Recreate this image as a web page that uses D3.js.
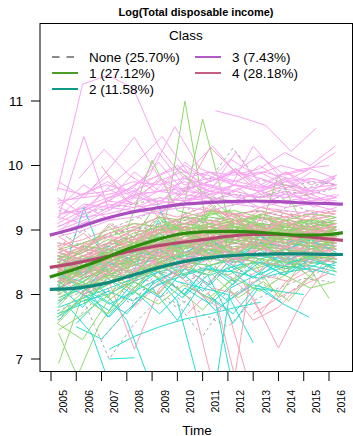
<!DOCTYPE html>
<html>
<head>
<meta charset="utf-8">
<script src="https://cdn.jsdelivr.net/npm/d3@7"></script>
<style>
body { margin: 0; background: #fff; }
text { font-family: "Liberation Sans", Arial, sans-serif; fill: #000; }
</style>
</head>
<body>
<div class="container"></div>
<script>
// axis ticks
var tickYears = [2005, 2006, 2007, 2008, 2009, 2010, 2011, 2012, 2013, 2014, 2015, 2016];
var yTicks = [7, 8, 9, 10, 11];
var legendLabels = ["None (25.70%)", "1 (27.12%)", "2 (11.58%)", "3 (7.43%)", "4 (28.18%)"];

// class mean curves
var meanTimes = [2004.95, 2006, 2007, 2008, 2009, 2010, 2011, 2012, 2013, 2014, 2015, 2016, 2016.55];
var mean1 = [8.27, 8.40, 8.54, 8.70, 8.83, 8.93, 8.97, 8.98, 8.97, 8.94, 8.92, 8.93, 8.96];
var mean2 = [8.08, 8.10, 8.16, 8.27, 8.39, 8.49, 8.56, 8.60, 8.62, 8.63, 8.63, 8.62, 8.62];
var mean3 = [8.92, 9.03, 9.16, 9.26, 9.33, 9.39, 9.42, 9.44, 9.45, 9.44, 9.42, 9.41, 9.40];
var mean4 = [8.42, 8.49, 8.57, 8.66, 8.74, 8.80, 8.85, 8.90, 8.93, 8.93, 8.90, 8.86, 8.84];

// individual trajectories: first observation time, then yearly values
var noneStart = [2005.25, 2005.3, 2005.25, 2006.3, 2009.0, 2010.2, 2005.3, 2005.25, 2005.3, 2005.25, 2007.5, 2005.3, 2005.25,
  2010.0, 2005.3, 2006.3, 2005.25, 2005.3, 2011.3, 2005.25, 2008.0, 2005.3, 2005.25, 2014.0, 2005.3,
  2005.3, 2005.25, 2005.4, 2006.2, 2005.3, 2008.5, 2005.25, 2005.3, 2010.6, 2005.25, 2007.0];
var noneValues = [
  [8.45, 8.50, 8.65, 8.60, 8.75, 8.85, 8.80, 8.90, 8.85, 8.80, 8.90, 8.85],
  [9.30, 9.25, 9.35, 9.40, 9.50, 9.45, 9.60, 9.55, 9.50, 9.60, 9.55, 9.65],
  [8.20, 8.35, 8.30, 8.50, 8.60, 8.55, 8.70, 8.75, 8.65, 8.70, 8.60, 8.65],
  [7.90, 7.00, 7.55, 7.95, 8.20, 8.35],
  [8.10, 7.85, 7.35, 7.95, 8.20, 8.30, 8.40, 8.35],
  [9.60, 9.75, 10.27, 9.78, 9.70, 9.65, 9.80],
  [8.65, 8.80, 8.95, 9.00, 9.10, 9.20, 9.15, 9.25, 9.30, 9.20, 9.25, 9.30],
  [7.75, 7.90, 8.05, 8.20, 8.35, 8.30, 8.45, 8.55, 8.50, 8.40, 8.50, 8.45],
  [8.55, 8.45, 8.70, 8.85, 8.80, 9.00, 9.05, 8.95, 9.10, 9.05, 9.00, 9.10],
  [8.30, 8.50, 8.45, 8.60, 8.55, 8.70, 8.85, 8.80, 8.70, 8.75, 8.80, 8.70],
  [9.05, 9.20, 9.35, 9.70, 9.50, 9.40, 9.55, 9.45, 9.60],
  [8.00, 8.15, 8.35, 8.25, 8.45, 8.60, 8.55, 8.65, 8.60, 8.55, 8.65, 8.60],
  [8.80, 8.75, 8.90, 9.05, 9.00, 9.15, 9.10, 9.00, 9.15, 9.05, 9.10, 9.15],
  [7.95, 7.70, 7.50, 7.90, 8.10, 8.25, 8.20],
  [8.40, 8.35, 8.55, 8.70, 8.65, 8.80, 8.75, 8.90, 8.95, 8.85, 8.80, 8.90],
  [8.60, 8.75, 8.70, 8.90, 9.05, 9.00, 8.95, 9.10, 9.05, 9.00],
  [8.10, 8.25, 8.40, 8.35, 8.50, 8.65, 8.75, 8.70, 8.60, 8.65, 8.75, 8.70],
  [8.70, 8.60, 8.80, 8.75, 8.95, 9.05, 9.20, 9.10, 9.00, 9.15, 9.10, 9.05],
  [9.45, 9.60, 9.50, 9.65, 9.75, 9.70],
  [8.35, 8.45, 8.60, 8.55, 8.70, 8.80, 8.75, 8.85, 8.90, 8.80, 8.85, 8.80],
  [8.50, 8.40, 8.65, 8.80, 8.75, 8.90, 8.85, 8.95, 9.00],
  [7.90, 8.05, 8.20, 8.40, 8.35, 8.50, 8.60, 8.55, 8.65, 8.60, 8.50, 8.55],
  [8.50, 8.65, 8.80, 8.90, 8.85, 8.95, 9.00, 9.05, 8.95, 9.00, 9.05, 8.95],
  [7.90, 8.20, 8.45],
  [8.25, 8.40, 8.55, 8.50, 8.65, 8.75, 8.70, 8.85, 8.80, 8.75, 8.85, 8.90],
  [8.60, 8.25, 8.70, 8.40, 8.90, 8.55, 8.80, 9.05, 8.70, 8.95, 8.60, 8.85],
  [8.05, 8.40, 7.95, 8.30, 8.15, 8.55, 8.35, 8.70, 8.45, 8.65, 8.50, 8.75],
  [8.95, 8.70, 9.10, 8.85, 9.25, 8.95, 9.40, 9.05, 9.20, 8.95, 9.15, 9.00],
  [7.70, 8.10, 7.85, 8.35, 8.05, 8.50, 8.25, 8.60, 8.35, 8.55],
  [8.40, 8.75, 8.35, 8.60, 8.95, 8.65, 8.85, 8.60, 9.00, 8.70, 8.90, 8.75],
  [9.20, 8.85, 9.35, 9.00, 9.55, 9.15, 9.40, 9.25],
  [7.60, 7.95, 8.25, 7.90, 8.30, 8.55, 8.20, 8.45, 8.70, 8.40, 8.60, 8.50],
  [8.75, 9.00, 8.65, 8.95, 8.80, 9.20, 8.90, 9.15, 8.95, 9.30, 9.05, 9.20],
  [8.30, 7.85, 8.40, 8.10, 8.55, 8.35],
  [8.30, 8.05, 8.45, 8.20, 8.60, 8.40, 8.80, 8.50, 8.75, 8.55, 8.70, 8.60],
  [7.30, 7.75, 8.05, 7.80, 8.10]
];

var c1Start = [2005.25, 2005.3, 2005.25, 2005.3, 2009.3, 2008.0, 2005.25, 2005.3, 2005.9, 2005.25, 2008.0, 2005.3,
  2005.25, 2009.9, 2005.3, 2013.0, 2005.25, 2009.0, 2011.0, 2005.3, 2005.25, 2005.3, 2005.25, 2006.3, 2005.3,
  2005.25, 2005.3, 2005.25, 2005.3, 2008.3, 2005.25, 2005.3, 2005.25, 2012.3, 2005.3,
  2005.25, 2005.3, 2005.25, 2005.4, 2006.3, 2005.3, 2005.25, 2007.4, 2005.3, 2005.25, 2009.5, 2005.3, 2005.25,
  2005.3, 2006.0, 2005.25, 2005.3, 2011.4];
var c1Values = [
  [8.30, 8.45, 8.60, 8.80, 8.85, 8.95, 9.00, 8.95, 9.05, 8.90, 8.95, 9.00],
  [8.10, 8.30, 8.50, 8.65, 8.80, 8.90, 8.85, 9.00, 8.95, 8.85, 8.90, 8.95],
  [8.45, 8.60, 8.75, 8.95, 9.05, 9.10, 9.20, 9.15, 9.10, 9.05, 9.15, 9.10],
  [6.93, 8.05, 8.30, 8.55, 8.70, 8.80, 8.75, 8.90, 8.85, 8.80, 8.75, 8.85],
  [8.60, 11.00, 8.75, 8.90, 8.85, 9.00, 8.95],
  [8.70, 9.30, 8.90, 10.72, 9.20, 9.00, 8.95, 8.85, 8.90],
  [8.20, 8.40, 8.35, 8.60, 8.75, 8.70, 8.90, 8.85, 8.80, 8.75, 8.85, 8.80],
  [8.00, 8.25, 8.45, 8.50, 8.65, 8.80, 8.90, 8.80, 8.70, 8.80, 8.75, 8.70],
  [6.60, 7.52, 8.10, 8.40, 8.60, 8.70, 8.65, 8.80, 8.75, 8.70],
  [8.55, 8.70, 8.90, 9.00, 9.20, 9.15, 9.25, 9.30, 9.20, 9.15, 9.25, 9.20],
  [9.00, 10.08, 9.30, 9.20, 9.30, 9.10, 9.00, 9.15, 9.05],
  [8.35, 8.50, 8.70, 8.65, 8.85, 9.00, 9.10, 9.05, 8.95, 9.00, 9.05, 8.90],
  [7.90, 8.10, 8.30, 8.45, 8.60, 8.55, 8.70, 8.65, 8.75, 8.70, 8.60, 8.65],
  [9.98, 9.62, 9.30, 9.10, 9.00, 9.15],
  [8.25, 8.40, 8.55, 8.75, 8.90, 8.85, 9.00, 9.10, 9.05, 9.00, 8.90, 9.00],
  [8.70, 9.85, 9.05, 8.95],
  [8.60, 8.55, 8.70, 8.85, 9.00, 9.05, 9.00, 8.95, 9.10, 9.05, 9.00, 9.10],
  [8.30, 8.10, 7.76, 8.20, 8.40, 8.50, 8.45, 8.55],
  [8.40, 8.30, 8.50, 7.96, 8.55, 7.94],
  [8.15, 8.35, 8.40, 8.55, 8.70, 8.65, 8.80, 8.95, 8.90, 8.85, 8.95, 8.90],
  [8.40, 8.50, 8.65, 8.80, 8.75, 8.95, 9.05, 9.00, 8.90, 8.95, 8.85, 8.95],
  [7.95, 8.15, 8.20, 8.35, 8.50, 8.65, 8.60, 8.75, 8.70, 8.65, 8.70, 8.60],
  [8.50, 8.65, 8.85, 8.80, 9.00, 9.10, 9.05, 9.15, 9.20, 9.10, 9.05, 9.15],
  [8.20, 8.50, 8.70, 8.95, 9.10, 9.00, 9.10, 8.95, 9.05, 9.00],
  [8.05, 8.20, 8.40, 8.60, 8.55, 8.75, 8.80, 8.70, 8.85, 8.80, 8.75, 8.80],
  [8.35, 8.30, 8.55, 8.70, 8.85, 8.80, 8.95, 8.90, 8.85, 8.90, 9.00, 8.95],
  [8.70, 8.80, 8.95, 9.10, 9.05, 9.20, 9.15, 9.10, 9.25, 9.15, 9.10, 9.20],
  [7.65, 7.95, 8.15, 8.35, 8.45, 8.60, 8.70, 8.65, 8.60, 8.70, 8.65, 8.75],
  [8.45, 8.40, 8.60, 8.75, 8.70, 8.85, 8.95, 9.05, 9.00, 8.90, 9.00, 9.05],
  [8.80, 8.95, 9.05, 9.00, 9.10, 9.20, 9.05, 9.15, 9.10],
  [8.20, 8.45, 8.50, 8.65, 8.80, 8.95, 8.85, 8.80, 8.95, 9.00, 8.90, 8.85],
  [7.45, 7.70, 8.00, 8.25, 8.40, 8.50, 8.45, 8.60, 8.55, 8.50, 8.60, 8.55],
  [8.55, 8.75, 8.70, 8.90, 9.05, 9.00, 9.10, 9.05, 9.00, 8.95, 9.05, 9.10],
  [8.40, 8.55, 8.35, 8.65],
  [8.30, 8.55, 8.65, 8.80, 8.75, 8.90, 9.00, 9.05, 8.95, 9.00, 8.90, 8.95],
  [8.00, 8.45, 8.15, 8.60, 8.35, 8.85, 8.55, 9.00, 8.70, 8.95, 8.65, 8.90],
  [8.35, 8.10, 8.55, 8.80, 8.50, 9.05, 8.75, 9.20, 8.90, 9.10, 8.80, 9.05],
  [7.80, 8.20, 7.95, 8.50, 8.25, 8.70, 8.95, 8.60, 8.85, 8.55, 8.80, 8.50],
  [8.65, 8.40, 8.85, 8.60, 9.15, 8.90, 9.30, 9.00, 9.25, 8.95, 9.20, 8.90],
  [7.85, 8.30, 8.05, 8.55, 8.85, 8.50, 8.95, 8.70, 9.00, 8.75],
  [8.10, 8.40, 8.65, 8.30, 8.75, 8.95, 8.60, 8.85, 9.05, 8.75, 8.95, 8.70],
  [8.50, 8.25, 8.70, 8.45, 8.95, 8.70, 9.10, 8.85, 8.70, 9.05, 8.80, 9.00],
  [8.20, 8.60, 9.00, 8.70, 9.35, 9.00, 8.80, 9.10, 8.85],
  [7.70, 8.05, 8.35, 8.10, 8.50, 8.30, 8.75, 8.50, 8.65, 8.40, 8.60, 8.35],
  [8.25, 8.60, 8.35, 8.80, 8.55, 9.00, 8.80, 8.65, 9.05, 8.80, 9.10, 8.85],
  [8.40, 8.90, 8.55, 9.10, 8.75, 8.50, 8.20],
  [8.45, 8.70, 9.05, 8.75, 9.20, 8.95, 9.30, 9.05, 8.90, 9.15, 8.85, 9.05],
  [7.55, 7.30, 7.90, 8.20, 8.00, 8.45, 8.30, 8.65, 8.45, 8.70, 8.55, 8.60],
  [8.15, 8.50, 8.25, 8.65, 8.90, 8.60, 8.80, 9.00, 8.75, 8.90, 8.70, 8.85],
  [8.30, 8.65, 8.40, 8.90, 8.65, 9.05, 8.85, 9.15, 8.90, 9.05, 8.80],
  [7.55, 7.95, 7.70, 8.05, 7.85, 8.15, 7.95, 8.25, 8.05, 8.30, 8.10, 8.20],
  [7.40, 6.50],
  [8.30, 7.95, 8.20, 7.90, 8.35]
];

var c2Start = [2005.25, 2005.3, 2005.25, 2006.0, 2007.3, 2007.3, 2007.0, 2008.0, 2011.1, 2009.0, 2005.25, 2005.3,
  2005.25, 2005.3, 2005.3, 2005.25, 2009.2, 2010.5, 2012.0, 2005.3,
  2005.3, 2005.25, 2006.0, 2005.3, 2008.2, 2005.25, 2011.2, 2005.3,
  2009.0, 2006.3, 2010.2, 2005.6, 2010.5];
var c2Values = [
  [8.05, 8.15, 8.30, 8.45, 8.55, 8.60, 8.70, 8.65, 8.60, 8.70, 8.65, 8.60],
  [7.80, 7.95, 8.10, 8.25, 8.40, 8.50, 8.45, 8.55, 8.60, 8.50, 8.55, 8.50],
  [8.30, 8.20, 8.45, 8.60, 8.70, 8.75, 8.65, 8.80, 8.75, 8.70, 8.80, 8.75],
  [7.50, 7.31, 7.75, 8.10, 8.30, 8.40, 8.35, 8.50, 8.45, 8.40],
  [7.15, 7.35, 7.50, 7.62, 7.70, 7.80, 7.88],
  [7.00, 7.02],
  [8.10, 7.60, 6.55],
  [8.20, 8.35, 7.90, 6.40],
  [5.50, 8.10, 8.30, 8.45, 8.40, 8.55],
  [8.40, 8.20, 8.10, 8.00, 7.25],
  [7.65, 7.90, 8.00, 8.20, 8.35, 8.45, 8.55, 8.50, 8.60, 8.55, 8.50, 8.45],
  [8.45, 8.55, 8.60, 8.75, 8.90, 8.85, 8.80, 8.95, 8.90, 8.85, 8.80, 8.90],
  [8.20, 8.00, 8.15, 8.35, 9.15, 8.50, 8.60, 8.70, 8.55, 8.65, 8.60, 8.55],
  [7.95, 8.10, 7.85, 8.05, 8.25, 8.40, 8.30, 8.45, 8.50, 8.40, 8.45, 8.35],
  [8.10, 9.35, 8.30, 8.25, 8.50, 8.60, 8.55, 8.65, 8.60, 8.70, 8.65],
  [7.70, 7.85, 8.05, 7.90, 8.15, 8.30, 8.40, 8.35, 8.25, 8.35, 8.40, 8.30],
  [9.40, 8.60, 8.70, 8.55, 8.80, 8.75, 8.90],
  [8.20, 7.75, 8.05, 8.30, 8.50, 8.60],
  [8.40, 8.10, 8.05, 8.00],
  [8.55, 8.40, 8.50, 8.65, 8.60, 8.80, 8.75, 8.90, 8.85, 8.80, 8.90, 8.85],
  [7.60, 8.00, 7.75, 8.20, 7.95, 8.40, 8.15, 8.55, 8.30, 8.60, 8.35, 8.50],
  [8.15, 7.80, 8.25, 8.00, 8.45, 8.25, 8.65, 8.40, 8.70, 8.45, 8.60, 8.40],
  [7.55, 7.95, 7.70, 8.15, 8.40, 8.05, 8.50, 8.25, 8.60, 8.35],
  [8.35, 8.05, 8.50, 8.30, 8.70, 8.45, 8.85, 8.55, 8.80, 8.50, 8.75, 8.55],
  [7.80, 8.25, 7.95, 8.45, 8.15, 8.55, 8.30, 8.65],
  [7.85, 8.20, 7.65, 8.10, 8.35, 8.00, 8.45, 8.20, 8.50, 8.30, 8.55, 8.40],
  [8.00, 7.70, 8.15, 7.85, 7.65],
  [8.60, 8.30, 8.75, 8.50, 8.95, 8.65, 8.85, 8.60, 8.90, 8.70, 8.85, 8.65],
  [8.10, 7.60, 8.20, 7.90, 8.15, 8.05],
  [8.00, 7.65, 8.05, 7.70, 8.10, 7.85, 8.20],
  [7.95, 8.30, 7.55, 8.10, 7.85],
  [7.85, 7.40, 6.30],
  [8.10, 7.90, 6.00]
];

var c3Start = [2005.25, 2005.3, 2005.3, 2005.25, 2005.4, 2005.9, 2011.5, 2005.25, 2005.25, 2005.3, 2005.3,
  2005.25, 2006.2, 2005.25, 2005.3, 2005.25, 2005.3, 2007.0, 2005.3, 2010.3, 2005.25, 2005.3,
  2005.3, 2005.25, 2005.4, 2006.1, 2005.3, 2008.3];
var c3Values = [
  [9.60, 11.26, 11.40, 11.20, 10.30, 9.80, 9.70],
  [9.75, 9.50, 9.95, 10.44, 9.80, 9.60, 9.55, 9.70, 9.60, 9.75, 9.80, 9.70],
  [9.20, 10.45, 9.30, 9.55, 9.60, 9.65, 9.50, 9.45, 9.60, 9.50, 9.55, 9.40],
  [9.40, 9.55, 9.75, 9.50, 10.20, 9.70, 9.80, 9.75, 9.90, 9.70, 9.60, 9.80],
  [9.25, 9.35, 9.70, 10.05, 10.45, 9.90, 10.30, 9.85, 9.90, 9.80, 9.75],
  [9.30, 9.45, 9.60, 9.85, 10.60, 9.95, 9.80, 9.70, 9.65, 9.60],
  [10.85, 10.75, 10.62, 10.22, 10.58],
  [9.10, 9.30, 9.45, 9.40, 9.60, 9.55, 9.50, 9.70, 9.60, 9.50, 9.65, 9.70],
  [9.05, 9.20, 9.25, 9.35, 9.40, 9.50, 9.45, 9.55, 9.50, 9.60, 9.45, 9.55],
  [9.00, 9.15, 9.35, 9.30, 9.45, 9.65, 9.70, 9.50, 9.55, 9.40, 9.50, 9.45],
  [9.35, 9.20, 9.50, 9.60, 9.40, 9.80, 9.60, 10.20, 9.70, 9.55, 9.60, 9.50],
  [8.95, 9.10, 9.20, 9.30, 9.25, 9.45, 9.50, 9.40, 9.45, 9.35, 9.40, 9.30],
  [9.55, 9.70, 9.60, 9.75, 9.90, 9.85, 9.70, 9.60, 9.80, 9.55],
  [9.45, 9.50, 9.55, 9.65, 10.05, 9.60, 9.75, 9.90, 10.15, 9.85, 9.95, 10.20],
  [9.15, 9.40, 9.35, 9.55, 9.60, 9.75, 9.60, 9.70, 9.65, 9.75, 9.60, 9.65],
  [9.20, 9.10, 9.30, 9.50, 9.45, 9.40, 9.60, 9.55, 9.35, 9.45, 9.50, 9.40],
  [9.25, 9.30, 9.45, 9.70, 9.85, 10.00, 9.75, 9.90, 9.80, 9.65, 9.80, 9.70],
  [9.30, 9.50, 9.80, 10.00, 9.70, 9.60, 10.30, 9.85, 9.95, 10.00],
  [8.90, 9.00, 9.15, 9.20, 9.30, 9.35, 9.30, 9.40, 9.35, 9.30, 9.25, 9.35],
  [9.50, 9.70, 9.60, 9.80, 9.65, 9.90],
  [9.65, 9.55, 9.60, 9.75, 9.70, 9.80, 9.90, 9.85, 9.95, 10.20, 10.00, 10.30],
  [9.05, 9.25, 9.40, 9.35, 9.50, 9.45, 9.55, 9.60, 9.50, 9.55, 9.45, 9.50],
  [9.35, 9.70, 9.45, 9.90, 9.60, 10.05, 9.75, 9.95, 9.65, 9.90, 9.70, 9.85],
  [9.50, 9.25, 9.65, 9.40, 9.80, 9.55, 9.90, 9.70, 10.00, 9.75, 9.95, 9.80],
  [9.00, 9.35, 9.15, 9.55, 9.30, 9.70, 9.45, 9.65, 9.40, 9.60, 9.35, 9.55],
  [9.80, 10.25, 9.85, 9.60, 9.95, 9.70, 10.10, 9.85, 10.00, 9.90],
  [9.20, 9.55, 9.85, 9.50, 9.75, 9.45, 9.65, 9.95, 9.60, 9.80, 9.55, 9.70],
  [9.65, 9.40, 9.85, 9.55, 9.95, 9.70, 9.90, 9.60, 9.85]
];

var c4Start = [2005.25, 2005.3, 2005.25, 2005.3, 2005.25, 2007.0, 2009.3, 2005.3, 2005.25, 2005.3, 2005.3, 2005.25,
  2006.3, 2009.0, 2011.9, 2012.0, 2009.6, 2005.25, 2005.3, 2005.25, 2005.3, 2005.25, 2007.2, 2005.25, 2005.3,
  2005.25, 2008.3, 2005.3, 2005.25, 2005.3, 2010.4, 2005.25, 2012.0, 2005.3, 2005.25,
  2005.25, 2005.3, 2005.25, 2005.4, 2006.2, 2005.3, 2005.25, 2008.1, 2005.3, 2005.25, 2009.2, 2005.3, 2005.25,
  2012.3, 2005.3, 2013.0, 2010.6];
var c4Values = [
  [8.40, 8.55, 8.50, 8.70, 8.80, 8.75, 8.90, 8.85, 8.95, 8.90, 8.80, 8.85],
  [8.30, 8.35, 8.60, 8.55, 8.70, 8.85, 8.80, 9.00, 8.95, 8.85, 8.90, 8.95],
  [8.55, 8.70, 8.65, 8.80, 8.95, 9.05, 9.00, 9.10, 9.05, 9.15, 9.00, 9.05],
  [8.20, 8.40, 8.45, 8.60, 8.55, 8.75, 8.70, 8.80, 8.75, 8.85, 8.70, 8.75],
  [8.60, 8.50, 8.75, 8.90, 9.00, 9.20, 9.10, 9.25, 9.30, 9.20, 9.15, 9.25],
  [9.99, 9.45, 9.30, 9.20, 9.35, 9.25, 9.20, 9.30, 9.15, 9.20],
  [9.25, 9.60, 10.28, 9.90, 9.55, 9.70, 9.50],
  [8.45, 8.60, 8.70, 8.65, 8.85, 8.95, 8.90, 9.00, 9.10, 9.05, 8.95, 9.00],
  [8.10, 8.25, 8.40, 8.55, 8.50, 8.65, 8.70, 8.80, 8.75, 8.70, 8.80, 8.70],
  [8.65, 8.80, 8.90, 8.85, 9.00, 9.10, 9.15, 9.05, 9.10, 9.00, 9.05, 9.10],
  [8.35, 8.45, 8.30, 8.55, 8.65, 8.60, 8.75, 8.85, 8.80, 8.90, 8.85, 8.80],
  [8.50, 8.65, 8.80, 8.75, 8.70, 8.90, 9.00, 8.95, 8.85, 8.95, 9.05, 8.90],
  [8.00, 8.20, 7.15, 8.10, 8.40, 8.55, 8.50, 8.60, 8.70, 8.65],
  [8.55, 8.30, 8.00, 7.75, 6.40],
  [5.80, 8.30, 8.50, 8.60, 8.55],
  [8.30, 7.95, 7.17, 7.95, 8.45],
  [8.20, 7.90, 6.30],
  [8.75, 8.85, 9.00, 9.10, 9.05, 9.20, 9.30, 9.25, 9.15, 9.20, 9.30, 9.25],
  [8.25, 8.15, 8.35, 8.45, 8.60, 8.55, 8.65, 8.60, 8.70, 8.65, 8.60, 8.55],
  [8.40, 8.30, 8.50, 8.45, 8.60, 8.75, 8.85, 8.70, 8.80, 8.95, 8.85, 8.90],
  [8.70, 8.60, 8.80, 9.00, 8.95, 9.10, 9.05, 9.15, 9.20, 9.10, 9.05, 9.15],
  [8.15, 8.35, 8.25, 8.40, 8.50, 8.45, 8.60, 8.55, 8.50, 8.45, 8.55, 8.50],
  [8.50, 8.70, 8.65, 8.85, 8.80, 8.95, 9.00, 8.90, 9.05, 8.95],
  [8.55, 8.45, 8.60, 8.75, 8.70, 8.65, 8.80, 8.95, 8.85, 8.75, 8.70, 8.80],
  [8.30, 8.50, 8.65, 8.55, 8.80, 8.90, 9.00, 8.85, 8.95, 9.00, 8.90, 8.85],
  [8.45, 8.35, 8.55, 8.70, 8.60, 8.80, 8.75, 8.90, 8.85, 8.80, 8.95, 8.85],
  [7.80, 8.20, 8.45, 8.60, 8.55, 8.70, 8.65, 8.60, 8.75],
  [8.60, 8.75, 8.70, 8.85, 9.00, 8.90, 9.05, 8.95, 9.00, 9.10, 9.00, 8.95],
  [8.20, 8.30, 8.45, 8.35, 8.55, 8.65, 8.60, 8.70, 8.85, 8.75, 8.65, 8.70],
  [8.80, 8.70, 8.95, 9.05, 9.20, 9.10, 9.30, 9.20, 9.35, 9.25, 9.20, 9.30],
  [7.70, 8.10, 8.00, 8.30, 8.20, 8.40],
  [8.35, 8.60, 8.55, 8.50, 8.75, 8.70, 8.85, 9.00, 8.95, 8.90, 8.80, 8.90],
  [8.10, 7.60, 7.80, 8.20, 8.55],
  [8.50, 8.40, 8.65, 8.60, 8.80, 8.85, 8.95, 9.05, 9.00, 8.95, 9.05, 9.00],
  [8.65, 8.55, 8.70, 8.85, 8.95, 9.00, 8.95, 9.10, 9.05, 9.00, 8.90, 8.95],
  [8.45, 8.10, 8.55, 8.30, 8.75, 8.50, 8.95, 8.70, 9.05, 8.80, 9.00, 8.75],
  [8.70, 8.95, 8.60, 9.05, 8.85, 9.25, 8.95, 9.15, 8.90, 9.20, 8.95, 9.10],
  [8.20, 8.55, 8.30, 8.70, 8.45, 8.85, 8.60, 9.00, 8.75, 8.95, 8.70, 8.85],
  [8.55, 8.80, 8.40, 8.85, 9.05, 8.75, 9.15, 8.90, 9.20, 8.95, 9.10, 8.85],
  [7.95, 8.35, 8.05, 8.50, 8.25, 8.70, 8.45, 8.80, 8.55, 8.75],
  [8.90, 8.65, 9.10, 8.80, 9.25, 9.00, 9.40, 9.10, 9.30, 9.05, 9.25, 9.00],
  [8.35, 8.70, 8.45, 8.90, 8.65, 9.05, 8.80, 8.60, 8.95, 8.70, 9.00, 8.80],
  [8.30, 8.65, 8.40, 8.85, 8.55, 9.00, 8.70, 8.95, 8.65],
  [8.05, 8.40, 8.15, 8.55, 8.80, 8.45, 8.90, 8.65, 8.85, 8.60, 8.80, 8.55],
  [8.60, 8.35, 8.80, 9.00, 8.70, 9.10, 8.85, 9.20, 8.90, 9.15, 8.85, 9.05],
  [8.00, 8.45, 8.15, 8.60, 8.35, 8.75, 8.50, 8.70],
  [8.40, 8.75, 8.95, 8.60, 9.00, 8.80, 9.15, 8.85, 9.05, 8.80, 9.00, 8.80],
  [8.75, 8.50, 8.90, 8.70, 9.10, 8.85, 9.00, 9.25, 8.95, 9.15, 8.90, 9.10],
  [8.40, 7.70, 8.20, 8.50],
  [8.25, 8.00, 8.45, 8.20, 8.65, 8.40, 8.80, 8.55, 8.75, 8.50, 8.70, 8.55],
  [7.70, 7.95, 8.15, 8.33],
  [8.10, 7.80, 6.20]
];

var width = 353, height = 436;
var box = {left: 40, right: 352.5, top: 23.5, bottom: 371.5};

var svg = d3.select('.container').append('svg')
	.attr('width', width)
	.attr('height', height);

var x = d3.scaleLinear().domain([2005, 2016]).range([51, 329]);
var y = d3.scaleLinear().domain([7, 11]).range([359, 101]);

svg.append('clipPath').attr('id', 'plotclip')
	.append('rect')
	.attr('x', box.left).attr('y', box.top)
	.attr('width', box.right - box.left).attr('height', box.bottom - box.top);

var line = d3.line()
	.x(function(d){ return x(d[0]); })
	.y(function(d){ return y(d[1]); });

var groups = [
	{start: noneStart, values: noneValues, color: '#aaaaaa', dash: '3,3'},
	{start: c1Start, values: c1Values, color: '#8fd96b', dash: null},
	{start: c2Start, values: c2Values, color: '#22e0d2', dash: null},
	{start: c3Start, values: c3Values, color: '#f8a6f2', dash: null},
	{start: c4Start, values: c4Values, color: '#f8a2b6', dash: null}
];

var spag = svg.append('g').attr('clip-path', 'url(#plotclip)');

// interleave the classes so no colour sits entirely on top
var maxN = d3.max(groups, function(g){ return g.values.length; });
for (var i = 0; i < maxN; i++) {
	groups.forEach(function(g){
		if (i >= g.values.length) return;
		var t0 = g.start[i];
		var pts = g.values[i].map(function(v, k){ return [t0 + k, v]; });
		var p = spag.append('path')
			.attr('d', line(pts))
			.attr('fill', 'none')
			.attr('stroke', g.color)
			.attr('stroke-width', 1);
		if (g.dash) p.attr('stroke-dasharray', g.dash);
	});
}

// class means
var smooth = d3.line()
	.x(function(d){ return x(d[0]); })
	.y(function(d){ return y(d[1]); })
	.curve(d3.curveMonotoneX);

var means = [
	{vals: mean3, color: '#a94dbf'},
	{vals: mean4, color: '#b54a70'},
	{vals: mean1, color: '#2f8a10'},
	{vals: mean2, color: '#0f8a7c'}
];
means.forEach(function(m){
	svg.append('path')
		.attr('d', smooth(meanTimes.map(function(t, k){ return [t, m.vals[k]]; })))
		.attr('fill', 'none')
		.attr('stroke', m.color)
		.attr('stroke-width', 3.2)
		.attr('stroke-linecap', 'butt');
});

// box
svg.append('rect')
	.attr('x', box.left).attr('y', box.top)
	.attr('width', box.right - box.left).attr('height', box.bottom - box.top)
	.attr('fill', 'none').attr('stroke', '#000').attr('stroke-width', 1);

// y axis
yTicks.forEach(function(t){
	svg.append('line')
		.attr('x1', 31).attr('x2', box.left)
		.attr('y1', y(t)).attr('y2', y(t))
		.attr('stroke', '#000');
	svg.append('text')
		.attr('x', 23).attr('y', y(t))
		.attr('dy', '0.36em')
		.attr('text-anchor', 'end')
		.style('font-size', '13.5px')
		.text(t);
});

// x axis
tickYears.forEach(function(t){
	svg.append('line')
		.attr('x1', x(t)).attr('x2', x(t))
		.attr('y1', box.bottom).attr('y2', 381)
		.attr('stroke', '#000');
	svg.append('text')
		.attr('transform', 'translate(' + x(t + 0.5) + ',390) rotate(-90)')
		.attr('dy', '0.36em')
		.attr('text-anchor', 'end')
		.style('font-size', '10.5px')
		.text(t);
});

svg.append('text')
	.attr('x', 197).attr('y', 434.5)
	.attr('text-anchor', 'middle')
	.style('font-size', '13.5px')
	.text('Time');

svg.append('text')
	.attr('x', 196).attr('y', 16)
	.attr('text-anchor', 'middle')
	.style('font-size', '11px')
	.style('font-weight', 'bold')
	.text('Log(Total disposable income)');

// legend
svg.append('text')
	.attr('x', 186).attr('y', 35)
	.attr('dy', '0.36em')
	.attr('text-anchor', 'middle')
	.style('font-size', '13.5px')
	.text('Class');

var legendColors = ['#8a8a8a', '#4a9e26', '#129a88', '#b35ac6', '#c65e7e'];
var legendPos = [[52, 57], [52, 73], [52, 89], [195, 57], [195, 73]];
legendLabels.forEach(function(lab, k){
	var lx = legendPos[k][0], ly = legendPos[k][1];
	var l = svg.append('line')
		.attr('x1', lx).attr('x2', lx + 26)
		.attr('y1', ly).attr('y2', ly)
		.attr('stroke', legendColors[k])
		.attr('stroke-width', 2);
	if (k === 0) l.attr('stroke-dasharray', '7.5,7');
	svg.append('text')
		.attr('x', lx + 37).attr('y', ly)
		.attr('dy', '0.36em')
		.style('font-size', '13.5px')
		.text(lab);
});
</script>
</body>
</html>
